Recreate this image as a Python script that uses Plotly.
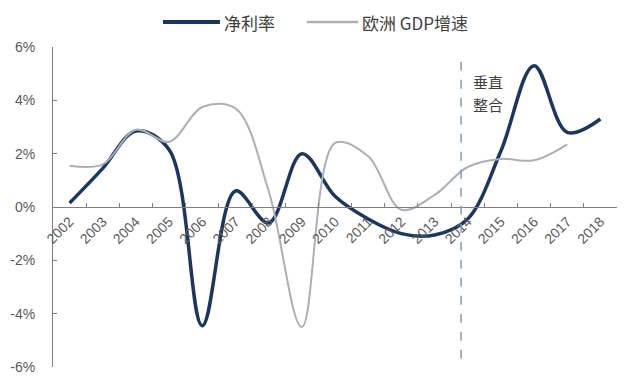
import plotly.graph_objects as go

years = [str(y) for y in range(2002, 2019)]
net_margin = [0.15, 1.45, 2.85, 2.15, -4.45, 0.6, -0.6, 2.0, 0.4, -0.45, -1.0, -1.05, -0.45, 2.1, 5.3, 2.8, 3.3]
eu_gdp = [1.55, 1.6, 2.9, 2.45, 3.75, 3.7, 0.6, -4.5, 2.4, 1.9, -0.1, 0.45, 1.5, 1.8, 1.75, 2.35, None]
y_ticks = [-6, -4, -2, 0, 2, 4, 6]
y_labels = ["-6%", "-4%", "-2%", "0%", "2%", "4%", "6%"]
series_names = ["净利率", "欧洲 GDP增速"]
series_colors = ["#1b3660", "#aab0b8"]
series_widths = [3.5, 2]

font_latin = "Liberation Sans, Arial, sans-serif"
font_cjk = "Noto Sans CJK SC, Liberation Sans, sans-serif"

fig = go.Figure()
for vals, name, col, w in zip([net_margin, eu_gdp], series_names, series_colors, series_widths):
    fig.add_trace(go.Scatter(x=years, y=vals, mode="lines", name=name, showlegend=False,
                             line=dict(color=col, width=w, shape="spline", smoothing=1.0)))

# custom legend (sample lines + labels) above the plot
legend_x = [(0.195, 0.296, 0.2995), (0.450, 0.541, 0.544)]
for (x0, x1, xt), name, col, w in zip(legend_x, series_names, series_colors, series_widths):
    fig.add_shape(type="line", xref="paper", yref="paper", x0=x0, x1=x1, y0=1.078, y1=1.078,
                  line=dict(color=col, width=w + 0.5))
    fig.add_annotation(x=xt, y=1.078, xref="paper", yref="paper", text=name, showarrow=False,
                       xanchor="left", yanchor="middle",
                       font=dict(family=font_cjk, size=17, color="#404040"))

fig.add_shape(type="line", xref="x", yref="y", x0=11.8, x1=11.8, y0=5.45, y1=-5.75,
              line=dict(color="#7f9cc0", width=1.5, dash="dash"))
fig.add_annotation(x=12.1, y=4.7, xref="x", yref="y", text="垂直", showarrow=False,
                   xanchor="left", font=dict(family=font_cjk, size=15, color="#404040"))
fig.add_annotation(x=12.1, y=3.85, xref="x", yref="y", text="整合", showarrow=False,
                   xanchor="left", font=dict(family=font_cjk, size=15, color="#404040"))

fig.update_layout(
    width=636, height=381,
    margin=dict(l=53, r=19, t=47, b=14, autoexpand=False),
    plot_bgcolor="white", paper_bgcolor="white",
    showlegend=False,
    xaxis=dict(type="category", anchor="free", position=0.5, showline=True,
               linecolor="#7f7f7f", linewidth=1, ticks="inside", ticklen=4,
               tickcolor="#7f7f7f", tickson="boundaries", tickangle=-45,
               tickfont=dict(family=font_latin, size=14, color="#595959"),
               showgrid=False, range=[-0.5, 16.5]),
    yaxis=dict(range=[-6, 6], tickvals=y_ticks, ticktext=y_labels, showline=True,
               linecolor="#7f7f7f", linewidth=1, ticks="inside", ticklen=4,
               tickcolor="#7f7f7f", showgrid=False, zeroline=False, ticklabelstandoff=14,
               tickfont=dict(family=font_latin, size=14, color="#595959")),
)

fig.write_html("out.html")
